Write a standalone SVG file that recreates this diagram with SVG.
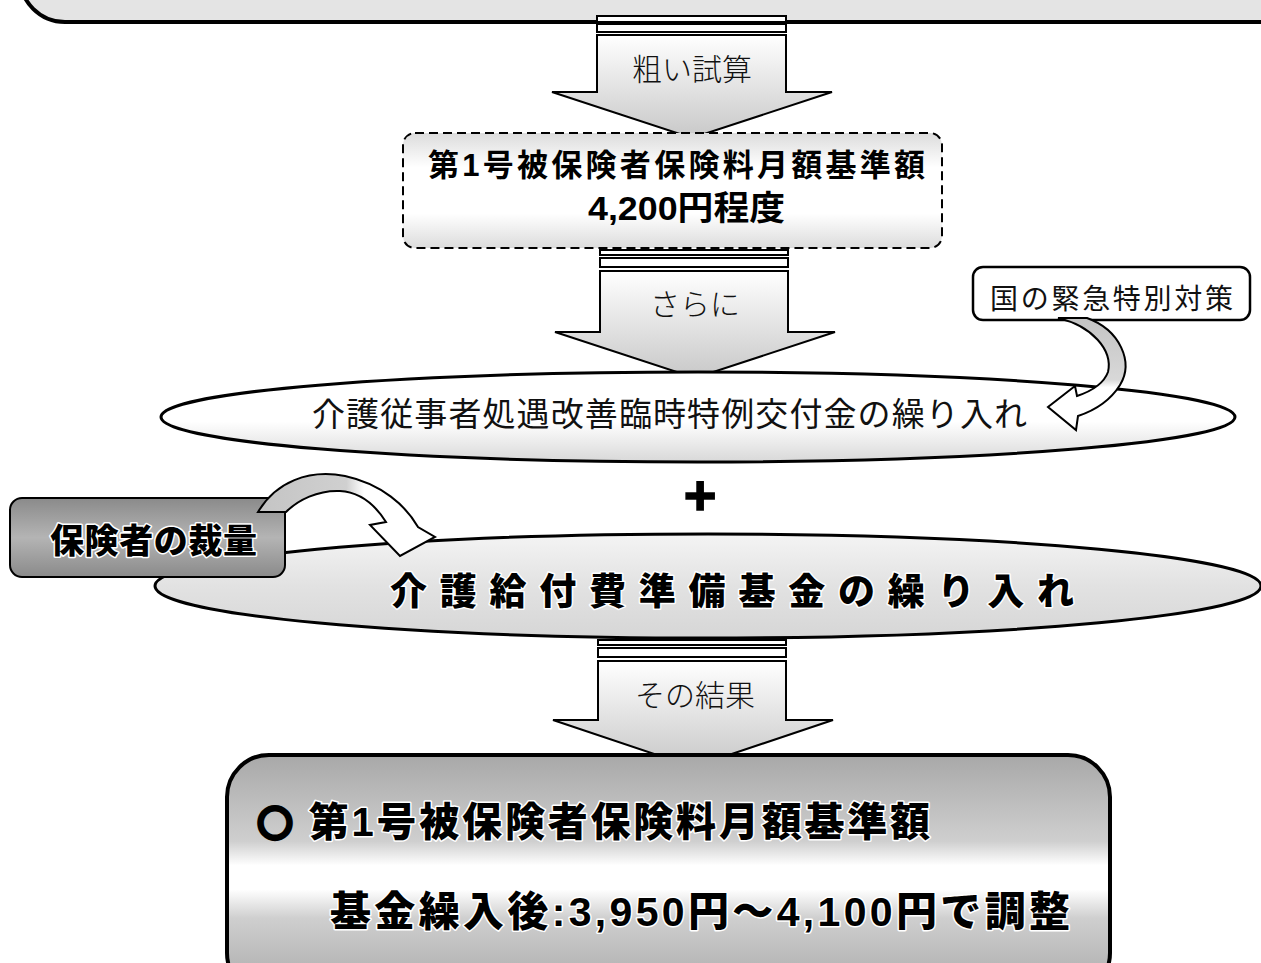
<svg xmlns="http://www.w3.org/2000/svg" width="1261" height="963" viewBox="0 0 1261 963">
<defs>
<style>
.jp{font-family:"Noto Sans CJK JP","Liberation Sans",sans-serif;}
.lat{font-family:"Liberation Sans","Noto Sans CJK JP",sans-serif;}
.lbl{font-size:30px;fill:#111;text-anchor:middle;font-weight:300;}
.bold{font-weight:bold;fill:#000;}
.heavy{font-weight:900;fill:#000;stroke:#fff;stroke-width:3px;paint-order:stroke;stroke-linejoin:round;}
.ring{font-family:"Noto Sans CJK JP",sans-serif;stroke:#000;stroke-width:5px;}
.stub{fill:#fff;stroke:#000;stroke-width:2px;}
.arrow{stroke:#000;stroke-width:2px;fill:url(#gArrow);}
.curve{stroke:#000;stroke-width:2px;}
</style>
<linearGradient id="gArrow" x1="0" y1="0" x2="0" y2="1">
<stop offset="0" stop-color="#ffffff"/>
<stop offset="0.45" stop-color="#e6e6e6"/>
<stop offset="1" stop-color="#c8c8c8"/>
</linearGradient>
<linearGradient id="gDash" x1="0" y1="0" x2="0" y2="1">
<stop offset="0" stop-color="#dcdcdc"/>
<stop offset="0.3" stop-color="#ffffff"/>
<stop offset="0.7" stop-color="#ffffff"/>
<stop offset="1" stop-color="#dcdcdc"/>
</linearGradient>
<linearGradient id="gEll1" x1="0" y1="0" x2="0" y2="1">
<stop offset="0" stop-color="#ffffff"/>
<stop offset="0.55" stop-color="#ffffff"/>
<stop offset="1" stop-color="#d8d8d8"/>
</linearGradient>
<linearGradient id="gEll2" x1="0" y1="0" x2="0" y2="1">
<stop offset="0" stop-color="#f4f4f4"/>
<stop offset="0.5" stop-color="#e2e2e2"/>
<stop offset="1" stop-color="#d6d6d6"/>
</linearGradient>
<linearGradient id="gBottom" x1="0" y1="0" x2="0" y2="1">
<stop offset="0" stop-color="#a8a8a8"/>
<stop offset="0.36" stop-color="#cfcfcf"/>
<stop offset="0.46" stop-color="#ffffff"/>
<stop offset="0.56" stop-color="#ffffff"/>
<stop offset="0.68" stop-color="#cfcfcf"/>
<stop offset="1" stop-color="#a8a8a8"/>
</linearGradient>
<linearGradient id="gHoken" x1="0" y1="0" x2="0" y2="1">
<stop offset="0" stop-color="#8a8a8a"/>
<stop offset="0.5" stop-color="#b4b4b4"/>
<stop offset="1" stop-color="#8a8a8a"/>
</linearGradient>
<linearGradient id="gCurveR" x1="0" y1="0" x2="0" y2="1">
<stop offset="0" stop-color="#c4c4c4"/>
<stop offset="0.55" stop-color="#d8d8d8"/>
<stop offset="0.62" stop-color="#ffffff"/>
<stop offset="1" stop-color="#ffffff"/>
</linearGradient>
<linearGradient id="gCurveL" x1="0" y1="0" x2="1" y2="0">
<stop offset="0" stop-color="#c4c4c4"/>
<stop offset="0.5" stop-color="#d0d0d0"/>
<stop offset="0.6" stop-color="#ffffff"/>
<stop offset="1" stop-color="#ffffff"/>
</linearGradient>
</defs>
<rect width="1261" height="963" fill="#ffffff"/>

<g id="top-box">
<rect x="20" y="-130" width="1300" height="152" rx="45" fill="#e4e4e4" stroke="#000" stroke-width="4"/>
</g>

<g id="connectors">
<g id="arrow-1">
<rect class="stub" x="597" y="16" width="189" height="6"/>
<rect class="stub" x="597" y="24" width="189" height="8"/>
<path class="arrow" d="M597,35 H786 V92 H832 L692,138 L552,92 H597 Z"/>
<text class="jp lbl" x="692" y="80">粗い試算</text>
</g>
<g id="arrow-2">
<rect class="stub" x="600" y="250" width="188" height="5"/>
<rect class="stub" x="600" y="258" width="188" height="9"/>
<path class="arrow" d="M600,271 H788 V332 H835 L695,378 L555,332 H600 Z"/>
<text class="jp lbl" x="695" y="315">さらに</text>
</g>
<g id="arrow-3">
<rect class="stub" x="598" y="640" width="188" height="5"/>
<rect class="stub" x="598" y="648" width="188" height="9"/>
<path class="arrow" d="M598,661 H786 V720 H833 L693,767 L553,720 H598 Z"/>
<text class="jp lbl" x="695" y="706">その結果</text>
</g>
</g>

<g id="estimate-box">
<rect x="403" y="133" width="539" height="115" rx="12" fill="url(#gDash)" stroke="#000" stroke-width="2" stroke-dasharray="9,5"/>
<text class="lat bold" x="428" y="176" font-size="31" textLength="497" lengthAdjust="spacing">第1号被保険者保険料月額基準額</text>
<text class="lat bold" x="588" y="220" font-size="34" textLength="197" lengthAdjust="spacingAndGlyphs">4,200円程度</text>
</g>

<g id="ellipse-1">
<ellipse cx="698" cy="417" rx="537" ry="45" fill="url(#gEll1)" stroke="#000" stroke-width="3"/>
<text class="jp" x="312" y="426" font-size="33" fill="#111" textLength="715" lengthAdjust="spacing">介護従事者処遇改善臨時特例交付金の繰り入れ</text>
</g>

<g id="callout-kuni">
<rect x="973" y="267" width="277" height="53" rx="10" fill="#fff" stroke="#000" stroke-width="2.5"/>
<text class="jp" x="990" y="309" font-size="28" fill="#111" textLength="243" lengthAdjust="spacing">国の緊急特別対策</text>
</g>

<g id="curve-arrow-kuni">
<path class="curve" fill="url(#gCurveR)" d="M1087,318 C1120,330 1134,362 1120,385 C1110,401 1096,410 1078,416 L1076,430 L1048,407 L1075,386 L1077,396 C1092,391 1104,383 1108,372 C1113,350 1092,326 1058,318 Z"/>
</g>

<g id="plus">
<text x="700" y="514" font-family="Liberation Sans, sans-serif" font-weight="bold" font-size="56" text-anchor="middle" fill="#000" stroke="#000" stroke-width="1.5">+</text>
</g>

<g id="ellipse-2">
<ellipse cx="708" cy="586" rx="553" ry="52" fill="url(#gEll2)" stroke="#000" stroke-width="3"/>
<text class="jp heavy" x="390" y="605" font-size="37" textLength="684" lengthAdjust="spacing">介護給付費準備基金の繰り入れ</text>
</g>

<g id="hokensha-box">
<rect x="10" y="498" width="275" height="79" rx="12" fill="url(#gHoken)" stroke="#000" stroke-width="2"/>
<text class="jp heavy" x="50" y="553" font-size="34" textLength="207" lengthAdjust="spacing">保険者の裁量</text>
</g>

<g id="curve-arrow-hokensha">
<path class="curve" fill="url(#gCurveL)" d="M258,512 C276,482 308,469 345,476 C382,484 406,506 418,527 L435,537 L400,556 L370,525 L386,522 C374,503 358,492 340,491 C318,490 298,500 286,512 Z"/>
</g>

<g id="result-box">
<rect x="227" y="755" width="883" height="240" rx="42" fill="url(#gBottom)" stroke="#000" stroke-width="4"/>
<text class="lat heavy" x="258" y="836" font-size="40" textLength="672" lengthAdjust="spacing"><tspan class="ring" font-size="34">○</tspan> 第1号被保険者保険料月額基準額</text>
<text class="lat heavy" x="330" y="926" font-size="41" textLength="740" lengthAdjust="spacing">基金繰入後:3,950円～4,100円で調整</text>
</g>
</svg>
